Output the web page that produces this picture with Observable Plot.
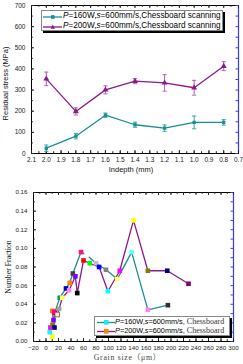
<!DOCTYPE html>
<html><head><meta charset="utf-8">
<script src="https://cdn.jsdelivr.net/npm/d3@7"></script>
<script src="https://cdn.jsdelivr.net/npm/@observablehq/plot@0.6"></script>
<style>
body{margin:0;background:#fff;width:243px;height:364px;overflow:hidden;position:relative;font-family:"Liberation Sans",Arial,sans-serif}
#top,#bot{position:absolute;left:0}
#top{top:0}#bot{top:180px}
svg{display:block}
.leg{position:absolute;background:#fff;border:1px solid #888;box-shadow:2px 2px 0 #000;box-sizing:border-box}
.row{position:absolute;left:0;white-space:nowrap;color:#000;line-height:1}
.row svg{position:absolute;left:0;top:0}
.row span{position:absolute}
.serif{font-family:"Liberation Serif","DejaVu Serif",serif}
</style></head><body>
<div id="top"></div><div id="bot"></div>
<div class="leg" id="leg1" style="left:41px;top:10px;width:182px;height:21px"></div>
<div class="leg" id="leg2" style="left:94px;top:316px;width:136px;height:20px"></div>
<script>
// ---- top chart data ----
const depth = [2.0, 1.8, 1.6, 1.4, 1.2, 1.0, 0.8];
const stress160 = [25, 82, 181, 136, 120, 147, 147];
const err160 = [15, 13, 10, 12, 15, 30, 13];
const stress200 = [353, 199, 301, 342, 334, 311, 413];
const err200 = [32, 17, 19, 12, 39, 35, 21];
const legendTop = ["P=160W,s=600mm/s,Chessboard scanning", "P=200W,s=600mm/s,Chessboard scanning"];

// ---- bottom chart data ----
const grain160 = [10, 6, 7, 10.4, 13.6, 14, 22, 32, 38, 43, 56, 65, 80, 96, 114, 137, 163, 195];
const frac160 = [0.0054, 0.010, 0.015, 0.018, 0.015, 0.031, 0.047, 0.057, 0.063, 0.073, 0.096, 0.093, 0.084, 0.077, 0.067, 0.096, 0.034, 0.039];
const color160 = ["#FFFF00", "#00FFFF", "#FF00FF", "#808000", "#000080", "#A01030", "#009080", "#0000C0", "#FF8000", "#404040", "#FF1080", "#FFFFFF", "#C0C0C0", "#808080", "#FFFF60", "#60FFFF", "#FF80FF", "#303030"];
const grain200 = [12, 10, 13, 18, 21, 26, 37, 47, 50, 60, 70, 85, 99, 118, 140, 163, 194, 228];
const frac200 = [0.023, 0.033, 0.032, 0.029, 0.035, 0.047, 0.055, 0.070, 0.052, 0.087, 0.084, 0.080, 0.054, 0.076, 0.130, 0.076, 0.076, 0.062];
const color200 = ["#8000FF", "#FF8000", "#FF0080", "#FFFFFF", "#A0A0A0", "#FFFF60", "#FF80FF", "#8000FF", "#000000", "#FF0000", "#00FF00", "#0000FF", "#00FFFF", "#FF00FF", "#FFFF00", "#808000", "#000080", "#800080"];
const legendBot = ["P=160W,s=600mm/s,", "P=200W,s=600mm/s,"];

const TEAL = "#18908f", PURPLE = "#8a1a8c", BLUE = "#3a3aff";
const W = 243;

// ---------- TOP ----------
{
  const H = 180, mT = 5, mB = 27, mL = 31, mR = 5;
  const ih = H - mT - mB, iw = W - mL - mR;
  const d160 = depth.map((x, i) => ({x, y: stress160[i], e: err160[i]}));
  const d200 = depth.map((x, i) => ({x, y: stress200[i], e: err200[i]}));
  const majX = d3.ticks(0.7, 2.1, 14), minX = d3.ticks(0.7, 2.1, 28);
  const majY = d3.ticks(0, 700, 7), minY = d3.ticks(0, 700, 14);
  const cap = 0.014;
  const series = (d, col, ecol, sym, r) => [
    Plot.ruleX(d, {x: "x", y1: v => v.y - v.e, y2: v => v.y + v.e, stroke: ecol, strokeWidth: 1}),
    Plot.link(d, {x1: v => v.x - cap, x2: v => v.x + cap, y1: v => v.y + v.e, y2: v => v.y + v.e, stroke: ecol}),
    Plot.link(d, {x1: v => v.x - cap, x2: v => v.x + cap, y1: v => v.y - v.e, y2: v => v.y - v.e, stroke: ecol}),
    Plot.line(d, {x: "x", y: "y", stroke: col, strokeWidth: 1.3}),
    Plot.dot(d, {x: "x", y: "y", symbol: sym, r, fill: col, stroke: "none"})
  ];
  const p = Plot.plot({
    width: W, height: H, marginTop: mT, marginBottom: mB, marginLeft: mL, marginRight: mR,
    style: {fontFamily: "Liberation Sans, Arial, sans-serif", fontSize: "6.5px", background: "#fff", color: "#222"},
    x: {domain: [2.1, 0.7]},
    y: {domain: [0, 700]},
    marks: [
      Plot.frame({stroke: "#000", strokeWidth: 1}),
      Plot.ruleX([0.7], {stroke: BLUE, strokeWidth: 1.2}),
      Plot.tickX(majX, {x: d => d, insetTop: ih - 3}),
      Plot.tickX(minX, {x: d => d, insetTop: ih - 1.8}),
      Plot.tickX(majX, {x: d => d, insetBottom: ih - 3}),
      Plot.tickX(minX, {x: d => d, insetBottom: ih - 1.8}),
      Plot.tickY(majY, {y: d => d, insetRight: iw - 3}),
      Plot.tickY(minY, {y: d => d, insetRight: iw - 1.8}),
      Plot.tickY(minY, {y: d => d, insetLeft: iw - 2.5, stroke: BLUE}),
      Plot.axisX(majX, {tickSize: 0, tickPadding: 4, tickFormat: d3.format(".1f"), label: null, fill: "#222"}),
      Plot.axisY(majY, {tickSize: 0, tickPadding: 6, label: null, fill: "#222"}),
      Plot.text(["Indepth (mm)"], {frameAnchor: "bottom", dy: 18, dx: -4, fontSize: 7.5, fill: "#111"}),
      Plot.text(["Residual stress (MPa)"], {frameAnchor: "left", textAnchor: "middle", dx: -26, dy: 4, rotate: -90, fontSize: 7.5, fill: "#111"}),
      ...series(d200, PURPLE, "#b060b4", "triangle", 2.2),
      ...series(d160, TEAL, "#3aa8a6", "square", 1.9)
    ]
  });
  document.getElementById("top").appendChild(p);
}

// ---------- BOTTOM ----------
{
  const H = 184, mT = 12, mB = 23, mL = 33, mR = 10;
  const ih = H - mT - mB, iw = W - mL - mR;
  const b160 = grain160.map((x, i) => ({x, y: frac160[i], c: color160[i]}));
  const b200 = grain200.map((x, i) => ({x, y: frac200[i], c: color200[i]}));
  const majX = d3.range(-20, 301, 20), minX = d3.range(-20, 301, 10);
  const majY = d3.ticks(0, 0.16, 8), minY = d3.ticks(0, 0.16, 16);
  const p = Plot.plot({
    width: W, height: H, marginTop: mT, marginBottom: mB, marginLeft: mL, marginRight: mR,
    style: {fontFamily: "Liberation Sans, Arial, sans-serif", fontSize: "6.2px", background: "#fff", color: "#222"},
    x: {domain: [-20, 300]},
    y: {domain: [0, 0.16]},
    color: {type: "identity"},
    marks: [
      Plot.frame({stroke: "#000", strokeWidth: 1}),
      Plot.ruleX([300], {stroke: BLUE, strokeWidth: 1.2}),
      Plot.tickX(majX, {x: d => d, insetTop: ih - 3}),
      Plot.tickX(minX, {x: d => d, insetTop: ih - 1.8}),
      Plot.tickX(majX, {x: d => d, insetBottom: ih - 3}),
      Plot.tickX(minX, {x: d => d, insetBottom: ih - 1.8}),
      Plot.tickY(majY, {y: d => d, insetRight: iw - 3}),
      Plot.tickY(minY, {y: d => d, insetRight: iw - 1.8}),
      Plot.tickY(minY, {y: d => d, insetLeft: iw - 2.5, stroke: BLUE}),
      Plot.axisX(majX, {tickSize: 0, tickPadding: 4, label: null, fill: "#222"}),
      Plot.axisY(majY, {tickSize: 0, tickPadding: 6, tickFormat: d3.format(".2f"), label: null, fill: "#222"}),
      Plot.text(["Grain size（μm）"], {frameAnchor: "bottom", textAnchor: "middle", dy: 18, dx: -6, fontSize: 7.8, fill: "#444", fontFamily: "Liberation Serif, Noto Sans CJK SC, serif"}),
      Plot.text(["Number Fraction"], {frameAnchor: "left", textAnchor: "middle", dx: -25, rotate: -90, fontSize: 7.8, fill: "#111", fontFamily: "Liberation Serif, serif"}),
      Plot.line(b160, {x: "x", y: "y", stroke: TEAL, strokeWidth: 1.3}),
      Plot.line(b200, {x: "x", y: "y", stroke: PURPLE, strokeWidth: 1.3}),
      Plot.dot(b160, {x: "x", y: "y", symbol: "square", r: 2.6, fill: "c", stroke: "none"}),
      Plot.dot(b200, {x: "x", y: "y", symbol: "square", r: 2.6, fill: "c", stroke: d => d.c === "#FFFFFF" ? "#b02020" : "none", strokeWidth: 0.8})
    ]
  });
  d3.select(p).selectAll("text").filter(function() { return this.textContent.startsWith("Grain"); }).style("letter-spacing", "0.7px");
  document.getElementById("bot").appendChild(p);
}

// ---------- legends ----------
function italicize(s) {
  return s.replace(/^P/, "<i>P</i>").replace(/,s=/, ",<i>s</i>=");
}
{
  const L = document.getElementById("leg1");
  const items = [[TEAL, "square"], [PURPLE, "triangle"]];
  legendTop.forEach((t, i) => {
    const r = document.createElement("div");
    r.className = "row";
    r.style.top = (i * 10) + "px";
    r.style.height = "10px";
    const [col, sym] = items[i];
    const mk = sym === "square"
      ? `<rect x="8" y="3.2" width="3.6" height="3.6" fill="${col}"/>`
      : `<path d="M9.8,2.6 L12,6.8 L7.6,6.8 Z" fill="${col}"/>`;
    r.innerHTML = `<svg width="20" height="10" style="left:1px;top:0.5px"><line x1="0" x2="19" y1="5" y2="5" stroke="${col}" stroke-width="1.3"/>${mk}</svg>` +
      `<span style="left:21px;top:1.3px;font-size:8.2px">${italicize(t)}</span>`;
    L.appendChild(r);
  });
}
{
  const L = document.getElementById("leg2");
  const items = [[TEAL, "#18e8f0"], [PURPLE, "#ff7a10"]];
  legendBot.forEach((t, i) => {
    const r = document.createElement("div");
    r.className = "row";
    r.style.top = (i * 9) + "px";
    r.style.height = "9px";
    const [col, mc] = items[i];
    r.innerHTML = `<svg width="19" height="9" style="left:2px;top:0.5px"><line x1="0" x2="18" y1="4.5" y2="4.5" stroke="${col}" stroke-width="1.3"/><rect x="7" y="2" width="4.6" height="4.6" fill="${mc}"/></svg>` +
      `<span style="left:20px;top:1.3px;font-size:7.3px">${italicize(t)} <span class="serif" style="position:static;font-size:8px;color:#333">Chessboard</span></span>`;
    L.appendChild(r);
  });
}
</script>
</body></html>
